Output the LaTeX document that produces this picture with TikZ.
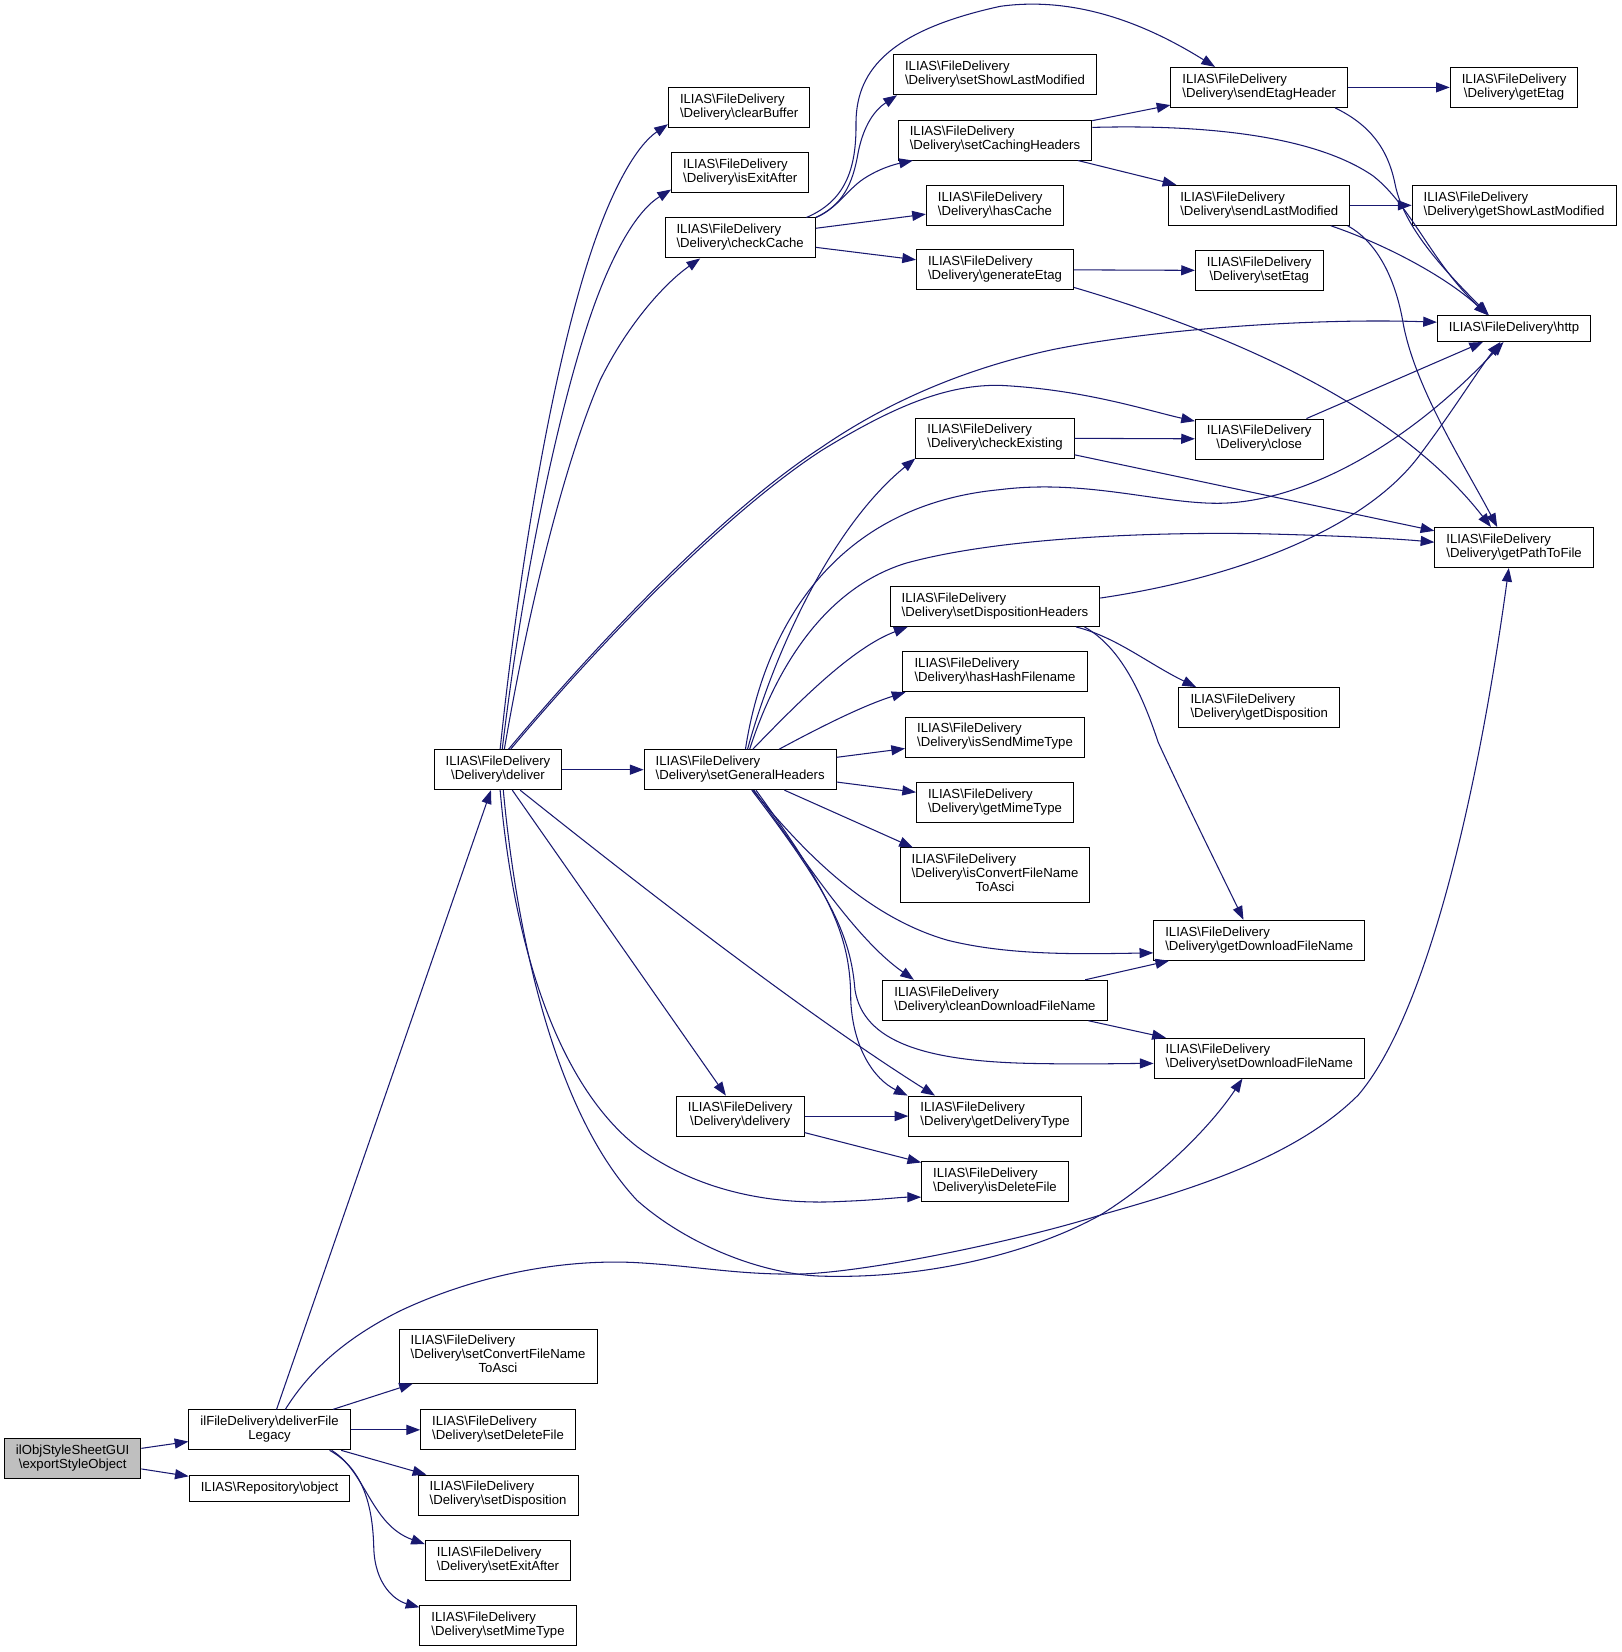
\documentclass[tikz,border=0pt]{standalone}
\usepackage{fontspec}
\setmainfont{Liberation Sans}
\usetikzlibrary{arrows.meta}
\definecolor{edgeblue}{HTML}{191970}
\definecolor{rootgray}{HTML}{BFBFBF}
\newcommand{\bksl}{\textbackslash}
\newcommand{\onel}[1]{\begin{tabular}{@{}c@{}}#1\end{tabular}}
\newcommand{\twol}[2]{\begin{tabular}{@{}l@{}}#1\\\multicolumn{1}{@{}c@{}}{#2}\end{tabular}}
\newcommand{\fdl}[1]{\twol{ILIAS\bksl FileDelivery}{\bksl Delivery\bksl #1}}
\newcommand{\fdlx}[2]{\twol{ILIAS\bksl FileDelivery\\\bksl Delivery\bksl #1}{#2}}

\begin{document}
\begin{tikzpicture}[x=1pt, y=-1pt, >={Triangle[length=13pt,width=9.5pt]}]

		\fill[white] (0,0) rectangle (1540,1569);
		\path[use as bounding box] (0,0) rectangle (1540,1569);

		\tikzstyle{fn}=[draw=black, line width=0.9pt, fill=white, inner xsep=11pt, inner ysep=5.7pt, font=\fontsize{12.5}{13.3}\selectfont]
		\tikzstyle{call}=[->, draw=edgeblue, line width=1pt]

		% caller and its direct calls
		\node[fn, fill=rootgray] (root) at (69,1385) {\twol{ilObjStyleSheetGUI}{\bksl exportStyleObject}};
		\node[fn] (legacy)    at (256,1358) {\twol{ilFileDelivery\bksl deliverFile}{Legacy}};
		\node[fn] (repo)      at (256,1414) {\onel{ILIAS\bksl Repository\bksl object}};
		\node[fn] (setconv)   at (473,1288) {\fdlx{setConvertFileName}{ToAsci}};
		\node[fn] (setdel)    at (473,1358) {\fdl{setDeleteFile}};
		\node[fn] (setdisp)   at (473,1420) {\fdl{setDisposition}};
		\node[fn] (setexit)   at (473,1482) {\fdl{setExitAfter}};
		\node[fn] (setmime)   at (473,1544) {\fdl{setMimeType}};
		\node[fn] (deliver)   at (473,731)  {\fdl{deliver}};

		% third column
		\node[fn] (clearbuf)   at (702,102)  {\fdl{clearBuffer}};
		\node[fn] (isexit)     at (703,164)  {\fdl{isExitAfter}};
		\node[fn] (checkcache) at (703,226)  {\fdl{checkCache}};
		\node[fn] (genhdr)     at (703,731)  {\fdl{setGeneralHeaders}};
		\node[fn] (delivery)   at (703,1060) {\fdl{delivery}};

		% fourth column
		\node[fn] (setshowlm)  at (945,71)   {\fdl{setShowLastModified}};
		\node[fn] (cachehdr)   at (945,133)  {\fdl{setCachingHeaders}};
		\node[fn] (hascache)   at (945,195)  {\fdl{hasCache}};
		\node[fn] (genetag)    at (945,256)  {\fdl{generateEtag}};
		\node[fn] (checkex)    at (945,416)  {\fdl{checkExisting}};
		\node[fn] (disphdr)    at (945,576)  {\fdl{setDispositionHeaders}};
		\node[fn] (hashfn)     at (945,638)  {\fdl{hasHashFilename}};
		\node[fn] (issendmt)   at (945,700)  {\fdl{isSendMimeType}};
		\node[fn] (getmt)      at (945,762)  {\fdl{getMimeType}};
		\node[fn] (isconv)     at (945,831)  {\fdlx{isConvertFileName}{ToAsci}};
		\node[fn] (cleandlfn)  at (945,950)  {\fdl{cleanDownloadFileName}};
		\node[fn] (getdeltype) at (945,1060) {\fdl{getDeliveryType}};
		\node[fn] (isdel)      at (945,1122) {\fdl{isDeleteFile}};

		% fifth and sixth column
		\node[fn] (etaghdr)    at (1196,83)   {\fdl{sendEtagHeader}};
		\node[fn] (sendlm)     at (1196,195)  {\fdl{sendLastModified}};
		\node[fn] (setetag)    at (1196,257)  {\fdl{setEtag}};
		\node[fn] (close)      at (1196,417)  {\fdl{close}};
		\node[fn] (getdisp)    at (1196,672)  {\fdl{getDisposition}};
		\node[fn] (getdlfn)    at (1196,893)  {\fdl{getDownloadFileName}};
		\node[fn] (setdlfn)    at (1196,1005) {\fdl{setDownloadFileName}};
		\node[fn] (getetag)    at (1438,83)   {\fdl{getEtag}};
		\node[fn] (getshowlm)  at (1438,195)  {\fdl{getShowLastModified}};
		\node[fn] (http)       at (1438,312)  {\onel{ILIAS\bksl FileDelivery\bksl http}};
		\node[fn] (pathfile)   at (1438,520)  {\fdl{getPathToFile}};

		% straight calls
		\path (root) edge[call] (legacy);
		\path (root) edge[call] (repo);
		\path (legacy) edge[call] (deliver);
		\path (legacy) edge[call] (setconv);
		\path (legacy) edge[call] (setdel);
		\path (legacy) edge[call] (setdisp);
		\path (deliver) edge[call] (genhdr);
		\path (deliver) edge[call] (delivery);
		\path (checkcache) edge[call] (hascache);
		\path (checkcache) edge[call] (genetag);
		\path (cachehdr) edge[call] (etaghdr);
		\path (cachehdr) edge[call] (sendlm);
		\path (etaghdr) edge[call] (getetag);
		\path (sendlm) edge[call] (getshowlm);
		\path (genetag) edge[call] (setetag);
		\path (checkex) edge[call] (close);
		\path (checkex) edge[call] (pathfile);
		\path (close) edge[call] (http);
		\path (genhdr) edge[call] (issendmt);
		\path (genhdr) edge[call] (getmt);
		\path (cleandlfn) edge[call] (getdlfn);
		\path (cleandlfn) edge[call] (setdlfn);
		\path (delivery) edge[call] (getdeltype);
		\path (delivery) edge[call] (isdel);
		\draw[call] ([xshift=42pt]genhdr.south) -- ([xshift=-78pt]isconv.north);

		% curved calls of deliverFileLegacy
		\draw[call] ([xshift=59pt]legacy.south) .. controls (348,1398) and (352,1448) .. ([yshift=-4pt]setexit.north west);
		\draw[call] ([xshift=57pt]legacy.south) .. controls (345,1395) and (354,1430) .. (355,1470) .. controls (356,1505) and (375,1520) .. ([yshift=-2pt]setmime.north west);
		\draw[call] ([xshift=15pt]legacy.north) .. controls (295,1300) and (330,1270) .. (380,1245) .. controls (450,1212) and (530,1196) .. (601,1199) .. controls (660,1202) and (700,1211) .. (760,1210) .. controls (830,1208) and (980,1175) .. (1045,1154) .. controls (1130,1130) and (1230,1100) .. (1290,1040) .. controls (1350,970) and (1400,780) .. ([xshift=-5pt]pathfile.south);

		% curved calls of deliver
		\draw[call] ([xshift=2pt]deliver.north) .. controls (495,520) and (530,320) .. (570,215) .. controls (585,175) and (605,138) .. ([yshift=-16pt]clearbuf.west);
		\draw[call] ([xshift=4pt]deliver.north) .. controls (500,520) and (540,350) .. (570,275) .. controls (585,237) and (605,200) .. ([yshift=-16pt]isexit.west);
		\draw[call] ([xshift=6pt]deliver.north) .. controls (505,560) and (540,430) .. (570,361) .. controls (595,310) and (630,270) .. ([xshift=-38pt]checkcache.south);
		\draw[call] ([xshift=10pt]deliver.north) .. controls (560,620) and (680,490) .. (780,425) .. controls (860,370) and (940,345) .. (1000,332) .. controls (1100,312) and (1250,302) .. ([yshift=6pt]http.west);
		\draw[call] ([xshift=12pt]deliver.north) .. controls (562,620) and (682,492) .. (780,428) .. controls (850,385) and (900,365) .. (950,366) .. controls (1030,370) and (1090,390) .. ([yshift=17pt]close.west);
		\draw[call] ([xshift=21pt]deliver.south) .. controls (600,835) and (760,960) .. ([xshift=-57pt]getdeltype.north);
		\draw[call] ([xshift=2pt]deliver.south) .. controls (488,900) and (530,1030) .. (605,1089) .. controls (660,1130) and (730,1145) .. (800,1141) .. controls (830,1140) and (855,1137) .. ([yshift=-15pt]isdel.west);
		\draw[call] ([xshift=5pt]deliver.south) .. controls (492,900) and (530,1060) .. (605,1140) .. controls (650,1180) and (720,1210) .. (780,1212) .. controls (880,1215) and (980,1190) .. (1045,1154) .. controls (1100,1120) and (1150,1070) .. ([xshift=-16pt]setdlfn.south);

		% curved calls of checkCache and the header senders
		\draw[call] (checkcache.north east) .. controls (800,195) and (810,175) .. (815,145) .. controls (820,120) and (830,105) .. ([xshift=-93pt]setshowlm.south);
		\draw[call] (checkcache.north east) .. controls (795,198) and (805,180) .. (820,170) .. controls (835,160) and (850,156) .. ([xshift=-78pt]cachehdr.south);
		\draw[call] ([xshift=-9pt]checkcache.north east) .. controls (800,192) and (813,165) .. (813,120) .. controls (812,70) and (840,30) .. (950,6) .. controls (1030,-5) and (1100,30) .. ([xshift=-42pt]etaghdr.north);
		\draw[call] ([yshift=12pt]cachehdr.east) .. controls (1150,118) and (1250,130) .. (1304,167) .. controls (1340,195) and (1360,250) .. ([xshift=-25pt]http.north);
		\draw[call] ([xshift=72pt]etaghdr.south) .. controls (1300,118) and (1318,140) .. (1325,175) .. controls (1333,215) and (1370,255) .. ([xshift=-24pt]http.north);
		\draw[call] ([xshift=68pt]sendlm.south) .. controls (1310,230) and (1370,260) .. ([xshift=-25pt]http.north);
		\draw[call] ([xshift=84pt]sendlm.south) .. controls (1305,228) and (1325,260) .. (1333,309) .. controls (1345,370) and (1390,440) .. ([xshift=-16pt]pathfile.north);
		\draw[call] ([yshift=-17pt]genetag.east) .. controls (1180,320) and (1330,390) .. ([xshift=-22pt]pathfile.north);

		% curved calls of setGeneralHeaders
		\draw[call] ([xshift=7pt]genhdr.north) .. controls (735,620) and (790,500) .. (checkex.south west);
		\draw[call] ([xshift=5pt]genhdr.north) .. controls (725,600) and (790,480) .. (950,465) .. controls (1030,455) and (1100,478) .. (1156,478) .. controls (1230,478) and (1330,430) .. ([xshift=-10pt]http.south);
		\draw[call] ([xshift=9pt]genhdr.north) .. controls (735,640) and (780,560) .. (860,535) .. controls (950,510) and (1100,505) .. (1200,507) .. controls (1280,509) and (1330,512) .. ([yshift=5pt]pathfile.west);
		\draw[call] ([xshift=12pt]genhdr.north) .. controls (760,665) and (810,615) .. ([xshift=-83pt]disphdr.south);
		\draw[call] ([xshift=37pt]genhdr.north) .. controls (780,690) and (820,670) .. ([xshift=-85pt]hashfn.south);
		\draw[call] ([xshift=12pt]genhdr.south) .. controls (760,805) and (820,870) .. (900,893) .. controls (960,908) and (1030,906) .. ([yshift=-12pt]getdlfn.west);
		\draw[call] ([xshift=13pt]genhdr.south) .. controls (760,810) and (810,890) .. ([xshift=-77pt]cleandlfn.north);
		\draw[call] ([xshift=11pt]genhdr.south) .. controls (790,850) and (808,890) .. (812,940) .. controls (820,990) and (880,1008) .. (980,1010) .. controls (1030,1011) and (1070,1010) .. ([yshift=-5pt]setdlfn.west);
		\draw[call] ([xshift=15pt]genhdr.south) .. controls (790,850) and (808,890) .. (808,950) .. controls (810,995) and (830,1025) .. ([xshift=-83pt]getdeltype.north);

		% curved calls of setDispositionHeaders
		\draw[call] ([yshift=8pt]disphdr.east) .. controls (1180,548) and (1300,500) .. (1350,430) .. controls (1380,390) and (1405,350) .. ([xshift=-13pt]http.south);
		\draw[call] ([xshift=77pt]disphdr.south) .. controls (1060,605) and (1090,630) .. ([xshift=-60pt]getdisp.north);
		\draw[call] ([xshift=85pt]disphdr.south) .. controls (1065,615) and (1085,660) .. (1100,705) .. controls (1130,770) and (1160,830) .. ([xshift=-15pt]getdlfn.north);

	\end{tikzpicture}
\end{document}
